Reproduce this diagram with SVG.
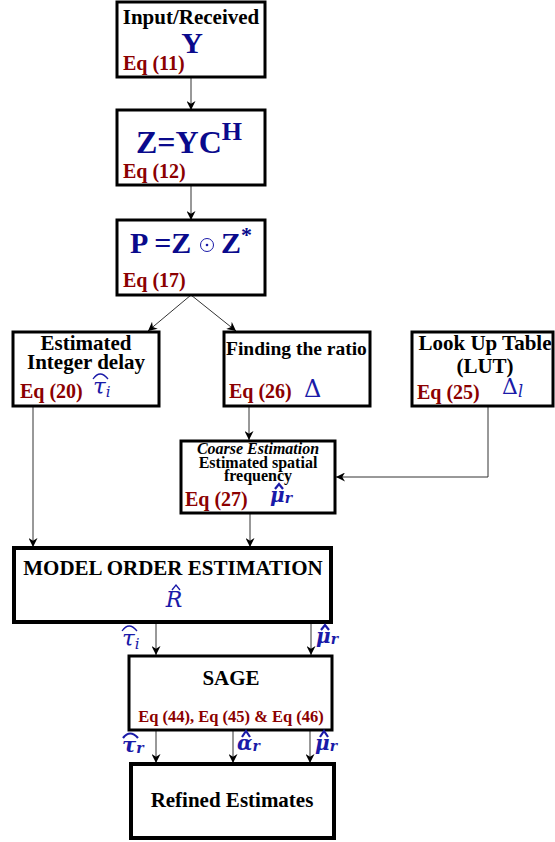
<svg xmlns="http://www.w3.org/2000/svg" width="555" height="842" viewBox="0 0 555 842">
<style>
.box{fill:#fff;stroke:#000;stroke-width:3}
.thick{stroke-width:4}
.t{font-family:"Liberation Serif","DejaVu Serif",serif;font-weight:bold;fill:#000}
.eq{font-family:"Liberation Serif","DejaVu Serif",serif;font-weight:bold;fill:#8b0000}
.big{font-family:"Liberation Serif","DejaVu Serif",serif;font-weight:bold;fill:#0a0a8c}
.m{font-family:"DejaVu Serif","Liberation Serif",serif;font-style:italic;fill:#1a1aa8}
.mb{font-family:"DejaVu Serif","Liberation Serif",serif;font-style:italic;font-weight:bold;fill:#1a1aa8}
.up{font-family:"DejaVu Serif","Liberation Serif",serif;font-style:normal;fill:#1a1aa8}
.hat{fill:none;stroke:#1a1aa8;stroke-width:1.3}
.hatb{fill:none;stroke:#1a1aa8;stroke-width:2.2}
.c{stroke:#333;stroke-width:1;fill:none;marker-end:url(#ah)}
</style>
<defs>
<marker id="ah" viewBox="0 0 10 10" refX="10" refY="5" markerWidth="9" markerHeight="9" markerUnits="userSpaceOnUse" orient="auto">
<path d="M0,0 L10,5 L0,10 L3,5 Z" fill="#000"/>
</marker>
</defs>
<g id="connectors">
<path class="c" d="M191,77 V110"/>
<path class="c" d="M191,185 V220"/>
<path class="c" d="M191,295 L148,331"/>
<path class="c" d="M191,295 L236,331"/>
<path class="c" d="M249,407 V440"/>
<path class="c" d="M488,406 V477 H336"/>
<path class="c" d="M33,407 V547"/>
<path class="c" d="M250,513 V547"/>
<path class="c" d="M156,622 V655"/>
<path class="c" d="M311,622 V655"/>
<path class="c" d="M156,730 V763"/>
<path class="c" d="M233,730 V763"/>
<path class="c" d="M310,730 V763"/>
</g>
<g id="n1">
<rect class="box" x="117" y="2" width="148" height="75"/>
<text class="t" x="191" y="24" font-size="21" text-anchor="middle">Input/Received</text>
<text class="big" x="192" y="53" font-size="30" text-anchor="middle">Y</text>
<text class="eq" x="123" y="70" font-size="20">Eq (11)</text>
</g>
<g id="n2">
<rect class="box" x="117" y="110" width="148" height="75"/>
<text class="big" x="136" y="153" font-size="32">Z=YC<tspan font-size="26" dy="-13">H</tspan></text>
<text class="eq" x="123" y="178" font-size="20">Eq (12)</text>
</g>
<g id="n3">
<rect class="box" x="117" y="220" width="148" height="75"/>
<text class="big" x="130" y="253" font-size="30">P =Z</text>
<circle cx="207" cy="245" r="6.5" fill="none" stroke="#1a1aa8" stroke-width="1"/>
<circle cx="207" cy="245" r="1.3" fill="#1a1aa8"/>
<text class="big" x="221" y="253" font-size="30">Z<tspan font-size="22" dy="-11">*</tspan></text>
<text class="eq" x="123" y="287" font-size="20">Eq (17)</text>
</g>
<g id="n4">
<rect class="box" x="13" y="332" width="146" height="74"/>
<text class="t" x="86" y="350" font-size="21" text-anchor="middle">Estimated</text>
<text class="t" x="86" y="369" font-size="21" text-anchor="middle">Integer delay</text>
<text class="eq" x="20" y="398" font-size="20">Eq (20)</text>
<text class="m" x="93" y="394" font-size="23">τ<tspan font-size="15" dy="3">i</tspan></text>
<path class="hat" d="M93,379 Q100,369 108,379"/>
</g>
<g id="n5">
<rect class="box" x="224" y="332" width="146" height="74"/>
<text class="t" x="226" y="355" font-size="19.5">Finding the ratio</text>
<text class="eq" x="229" y="398" font-size="20">Eq (26)</text>
<text class="up" x="304" y="397" font-size="24">Δ</text>
</g>
<g id="n6">
<rect class="box" x="412" y="332" width="141" height="74"/>
<text class="t" x="485" y="350" font-size="21" text-anchor="middle">Look Up Table</text>
<text class="t" x="485" y="373" font-size="21" text-anchor="middle">(LUT)</text>
<text class="eq" x="417" y="399" font-size="20">Eq (25)</text>
<text class="up" x="502" y="394" font-size="22">Δ<tspan class="m" font-size="16" dy="3">l</tspan></text>
</g>
<g id="n7">
<rect class="box" x="181" y="441" width="154" height="72"/>
<text class="t" x="258" y="454" font-size="16" font-style="italic" text-anchor="middle">Coarse Estimation</text>
<text class="t" x="258" y="468" font-size="16" text-anchor="middle">Estimated spatial</text>
<text class="t" x="258" y="481" font-size="16" text-anchor="middle">frequency</text>
<text class="eq" x="185" y="506" font-size="20">Eq (27)</text>
<text class="mb" x="270" y="502" font-size="20">μ<tspan font-size="14" dy="1">r</tspan></text>
<path class="hatb" d="M275,489 L279,484 L283,489"/>
</g>
<g id="n8">
<rect class="box thick" x="14" y="548" width="317" height="74"/>
<text class="t" x="173" y="575" font-size="21" text-anchor="middle">MODEL ORDER ESTIMATION</text>
<text class="m" x="174" y="607" font-size="22" text-anchor="middle">R</text>
<path class="hat" d="M172,590 L176,585 L180,590"/>
</g>
<g id="n9">
<rect class="box" x="129" y="656" width="203" height="74"/>
<text class="t" x="231" y="685" font-size="21" text-anchor="middle">SAGE</text>
<text class="eq" x="231" y="722" font-size="16.5" text-anchor="middle">Eq (44), Eq (45) &amp; Eq (46)</text>
</g>
<g id="n10">
<rect class="box thick" x="131" y="764" width="203" height="74"/>
<text class="t" x="232" y="807" font-size="21" text-anchor="middle">Refined Estimates</text>
</g>
<g id="labels">
<text class="m" x="122" y="646" font-size="23">τ<tspan font-size="15" dy="3">i</tspan></text>
<path class="hat" d="M122,631 Q129,621 137,631"/>
<text class="mb" x="316" y="643" font-size="20">μ<tspan font-size="14" dy="1">r</tspan></text>
<path class="hatb" d="M321,630 L325,625 L329,630"/>
<text class="mb" x="122" y="752" font-size="21">τ<tspan font-size="14" dy="1">r</tspan></text>
<path class="hatb" d="M123,738 Q130,729 138,738"/>
<text class="mb" x="237" y="750" font-size="20">α<tspan font-size="14" dy="1">r</tspan></text>
<path class="hatb" d="M242,737 L246,731 L250,737"/>
<text class="mb" x="315" y="750" font-size="20">μ<tspan font-size="14" dy="1">r</tspan></text>
<path class="hatb" d="M320,737 L324,731 L328,737"/>
</g>
</svg>
